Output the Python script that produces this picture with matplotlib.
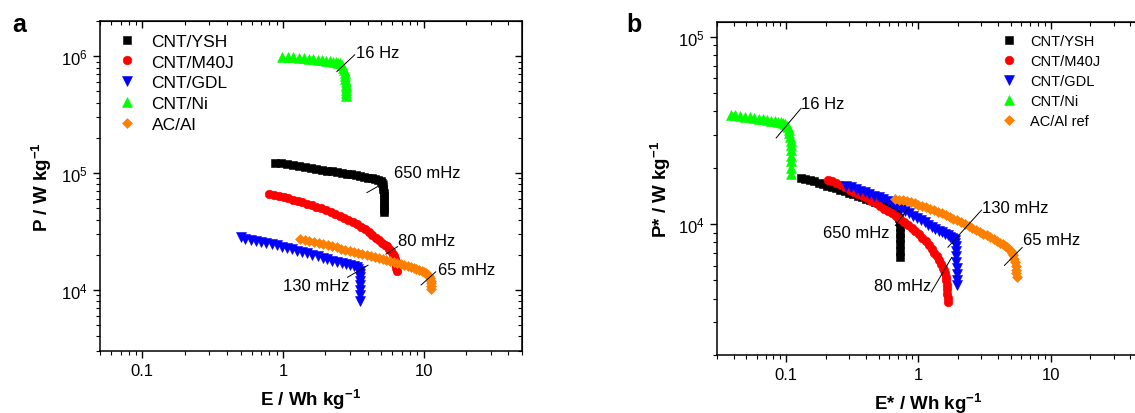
import numpy as np
import matplotlib
matplotlib.use("Agg")
import matplotlib.pyplot as plt
from matplotlib import ticker

plt.rcParams["font.family"] = ["Liberation Sans", "DejaVu Sans"]
plt.rcParams["mathtext.fontset"] = "custom"
plt.rcParams["mathtext.rm"] = "Liberation Sans"
plt.rcParams["mathtext.it"] = "Liberation Sans:italic"
plt.rcParams["mathtext.bf"] = "Liberation Sans:bold"

names_a = ["CNT/YSH", "CNT/M40J", "CNT/GDL", "CNT/Ni", "AC/Al"]
names_b = ["CNT/YSH", "CNT/M40J", "CNT/GDL", "CNT/Ni", "AC/Al ref"]
colors = ["#000000", "#ff0000", "#0000ff", "#00ff00", "#ff8000"]
markers = ["s", "o", "v", "^", "D"]
msizes = [5.5, 6.2, 6.8, 6.8, 5.5]

# ---- (a) Ragone, electrode mass basis: E in Wh/kg, P in W/kg ----
ysh_E = [0.88, 0.97, 1.07, 1.18, 1.30, 1.43, 1.57, 1.72, 1.88, 2.05, 2.23, 2.42,
         2.62, 2.83, 3.05, 3.28, 3.52, 3.77, 4.02, 4.28, 4.53, 4.77, 4.95, 5.07,
         5.14, 5.18, 5.20, 5.21, 5.22, 5.22, 5.22, 5.22]
ysh_P = np.array([12.3, 12.1, 11.9, 11.7, 11.5, 11.3, 11.1, 10.9, 10.7, 10.5, 10.35, 10.2,
                  10.05, 9.9, 9.75, 9.6, 9.45, 9.3, 9.15, 9.0, 8.85, 8.7, 8.5, 8.2,
                  7.8, 7.3, 6.8, 6.3, 5.8, 5.3, 4.9, 4.6]) * 1e4

m40j_E = [0.79, 0.86, 0.93, 1.01, 1.09, 1.18, 1.27, 1.37, 1.48, 1.60, 1.73, 1.87,
          2.02, 2.18, 2.35, 2.53, 2.72, 2.92, 3.13, 3.35, 3.58, 3.82, 4.06, 4.31,
          4.56, 4.81, 5.05, 5.28, 5.50, 5.70, 5.88, 6.03, 6.15, 6.25, 6.32, 6.37,
          6.40, 6.42]
m40j_P = np.array([6.67, 6.52, 6.38, 6.22, 6.06, 5.91, 5.76, 5.61, 5.45, 5.30, 5.14, 4.98,
                   4.82, 4.60, 4.45, 4.29, 4.12, 3.96, 3.80, 3.63, 3.47, 3.29, 3.13, 2.96,
                   2.80, 2.65, 2.54, 2.43, 2.36, 2.25, 2.14, 2.04, 1.94, 1.83, 1.72, 1.62,
                   1.53, 1.45]) * 1e4

gdl_E = [0.50, 0.54, 0.59, 0.64, 0.70, 0.76, 0.83, 0.90, 0.98, 1.07, 1.16, 1.26,
         1.37, 1.49, 1.62, 1.76, 1.91, 2.07, 2.24, 2.42, 2.61, 2.80, 3.00, 3.18,
         3.34, 3.44, 3.50, 3.52, 3.53, 3.53, 3.53, 3.53, 3.53, 3.53]
gdl_P = np.array([2.81, 2.75, 2.69, 2.63, 2.57, 2.51, 2.46, 2.40, 2.34, 2.28, 2.22, 2.16,
                  2.11, 2.05, 1.99, 1.94, 1.88, 1.83, 1.78, 1.73, 1.69, 1.65, 1.62, 1.59,
                  1.56, 1.52, 1.46, 1.38, 1.29, 1.20, 1.10, 1.00, 0.90, 0.81]) * 1e4

ni_E = [0.99, 1.08, 1.18, 1.29, 1.40, 1.52, 1.64, 1.77, 1.90, 2.03, 2.15, 2.27,
        2.38, 2.47, 2.55, 2.62, 2.68, 2.72, 2.75, 2.77, 2.78, 2.79, 2.79, 2.79,
        2.79, 2.79, 2.79]
ni_P = np.array([0.99, 0.98, 0.975, 0.968, 0.96, 0.952, 0.944, 0.935, 0.926, 0.917, 0.907, 0.897,
                 0.887, 0.878, 0.868, 0.84, 0.80, 0.76, 0.72, 0.68, 0.64, 0.60, 0.57,
                 0.54, 0.51, 0.48, 0.455]) * 1e6

acal_E = [1.33, 1.43, 1.54, 1.66, 1.79, 1.93, 2.08, 2.24, 2.41, 2.59, 2.78, 2.98,
          3.20, 3.43, 3.67, 3.93, 4.20, 4.49, 4.79, 5.11, 5.44, 5.78, 6.14, 6.51,
          6.89, 7.28, 7.68, 8.08, 8.48, 8.88, 9.27, 9.65, 10.0, 10.35, 10.65, 10.90,
          11.08, 11.2, 11.28, 11.32, 11.35]
acal_P = np.array([2.71, 2.66, 2.61, 2.56, 2.51, 2.46, 2.41, 2.36, 2.31, 2.26, 2.21, 2.16,
                   2.12, 2.07, 2.03, 1.99, 1.95, 1.91, 1.87, 1.84, 1.80, 1.77, 1.73, 1.70,
                   1.67, 1.64, 1.61, 1.58, 1.55, 1.52, 1.49, 1.46, 1.43, 1.39, 1.35, 1.31,
                   1.26, 1.20, 1.14, 1.08, 1.02]) * 1e4

# ---- (b) Ragone, full device basis: E* in Wh/kg, P* in W/kg ----
ysh_Es = [0.130, 0.140, 0.151, 0.163, 0.176, 0.190, 0.205, 0.221, 0.238, 0.257, 0.277, 0.299,
          0.322, 0.347, 0.374, 0.403, 0.434, 0.467, 0.502, 0.539, 0.578, 0.618, 0.658, 0.695,
          0.715, 0.725, 0.728, 0.730, 0.730, 0.730, 0.730, 0.730]
ysh_Ps = np.array([17.7, 17.4, 17.2, 16.9, 16.6, 16.3, 16.0, 15.8, 15.5, 15.2, 15.0, 14.7,
                   14.4, 14.2, 13.9, 13.6, 13.4, 13.1, 12.9, 12.6, 12.3, 12.0, 11.7, 11.3,
                   10.8, 10.2, 9.6, 9.0, 8.4, 7.8, 7.2, 6.7]) * 1e3

m40j_Es = [0.206, 0.222, 0.240, 0.259, 0.280, 0.302, 0.326, 0.352, 0.380, 0.410, 0.442, 0.476,
           0.512, 0.551, 0.592, 0.636, 0.682, 0.731, 0.782, 0.836, 0.892, 0.950, 1.010, 1.072,
           1.135, 1.198, 1.260, 1.320, 1.378, 1.432, 1.481, 1.525, 1.560, 1.590, 1.612, 1.628,
           1.640, 1.650, 1.657, 1.662, 1.665]
m40j_Ps = np.array([17.3, 16.9, 16.5, 16.1, 15.7, 15.3, 14.9, 14.5, 14.1, 13.7, 13.3, 12.9,
                    12.5, 12.1, 11.7, 11.4, 11.0, 10.6, 10.2, 9.85, 9.50, 9.15, 8.80, 8.45,
                    8.10, 7.75, 7.40, 7.05, 6.72, 6.40, 6.10, 5.82, 5.70, 5.45, 5.20, 5.00,
                    4.75, 4.50, 4.25, 4.05, 3.84]) * 1e3

gdl_Es = [0.286, 0.310, 0.336, 0.364, 0.394, 0.427, 0.462, 0.500, 0.541, 0.585, 0.632, 0.682,
          0.735, 0.791, 0.850, 0.912, 0.977, 1.045, 1.116, 1.190, 1.266, 1.344, 1.424, 1.505,
          1.586, 1.666, 1.730, 1.790, 1.840, 1.880, 1.905, 1.920, 1.930, 1.937, 1.942, 1.945,
          1.947, 1.948, 1.948]
gdl_Ps = np.array([16.0, 15.7, 15.4, 15.1, 14.8, 14.5, 14.2, 13.9, 13.6, 13.25, 12.9, 12.5,
                   12.1, 11.8, 11.4, 11.1, 10.8, 10.5, 10.2, 9.95, 9.70, 9.45, 9.22, 9.02,
                   8.85, 8.70, 8.57, 8.45, 8.35, 8.20, 7.95, 7.60, 7.20, 6.75, 6.30, 5.85,
                   5.40, 5.00, 4.71]) * 1e3

ni_Es = [0.038, 0.041, 0.045, 0.049, 0.053, 0.057, 0.062, 0.067, 0.072, 0.077, 0.082, 0.087,
         0.091, 0.095, 0.098, 0.101, 0.103, 0.105, 0.106, 0.107, 0.108, 0.108, 0.108, 0.108,
         0.108, 0.108, 0.108]
ni_Ps = np.array([3.84, 3.81, 3.78, 3.75, 3.72, 3.69, 3.66, 3.63, 3.60, 3.57, 3.55, 3.53,
                  3.50, 3.47, 3.42, 3.36, 3.28, 3.18, 3.06, 2.93, 2.79, 2.64, 2.48, 2.32,
                  2.16, 2.00, 1.85]) * 1e4

acal_Es = [0.668, 0.715, 0.765, 0.818, 0.875, 0.936, 1.00, 1.07, 1.15, 1.23, 1.31, 1.40,
           1.50, 1.61, 1.72, 1.84, 1.97, 2.10, 2.25, 2.40, 2.56, 2.73, 2.91, 3.10,
           3.30, 3.50, 3.71, 3.92, 4.13, 4.34, 4.55, 4.70, 4.85, 5.00, 5.12, 5.22,
           5.30, 5.38, 5.44, 5.49, 5.52, 5.55]
acal_Ps = np.array([13.6, 13.5, 13.4, 13.3, 13.1, 12.9, 12.7, 12.5, 12.3, 12.1, 11.9, 11.6,
                    11.4, 11.2, 10.9, 10.7, 10.5, 10.2, 10.0, 9.80, 9.55, 9.30, 9.10, 8.90,
                    8.70, 8.50, 8.30, 8.12, 7.95, 7.80, 7.65, 7.50, 7.35, 7.20, 7.00, 6.80,
                    6.55, 6.30, 6.00, 5.70, 5.45, 5.21]) * 1e3

series_a = [(ysh_E, ysh_P), (m40j_E, m40j_P), (gdl_E, gdl_P), (ni_E, ni_P), (acal_E, acal_P)]
series_b = [(ysh_Es, ysh_Ps), (m40j_Es, m40j_Ps), (gdl_Es, gdl_Ps), (ni_Es, ni_Ps), (acal_Es, acal_Ps)]

# frequency labels: (text, line start, line end, text anchor, ha)
freq_a = [
    ("16 Hz", (2.41, 7.36e5), (3.24, 1.03e6), (3.30, 1.075e6), "left"),
    ("650 mHz", (3.94, 6.79e4), (5.53, 8.55e4), (6.2, 1.008e5), "left"),
    ("80 mHz", (5.38, 2.02e4), (6.53, 2.35e4), (6.6, 2.66e4), "left"),
    ("130 mHz", (2.87, 1.28e4), (4.03, 1.63e4), (2.95, 1.097e4), "right"),
    ("65 mHz", (9.57, 1.10e4), (12.2, 1.43e4), (12.6, 1.50e4), "left"),
]
freq_b = [
    ("16 Hz", (0.0839, 2.88e4), (0.130, 4.16e4), (0.130, 4.43e4), "left"),
    ("650 mHz", (0.668, 9.8e3), (0.834, 1.21e4), (0.61, 9.03e3), "right"),
    ("80 mHz", (1.25, 4.33e3), (1.79, 6.65e3), (1.26, 4.71e3), "right"),
    ("130 mHz", (1.67, 7.51e3), (3.01, 1.19e4), (3.03, 1.23e4), "left"),
    ("65 mHz", (4.47, 6.01e3), (6.11, 7.51e3), (6.15, 8.26e3), "left"),
]


def style_axes(ax, xlim, ylim):
    ax.set_xscale("log")
    ax.set_yscale("log")
    ax.set_xlim(*xlim)
    ax.set_ylim(*ylim)
    ax.xaxis.set_major_formatter(ticker.FuncFormatter(lambda v, _: f"{v:g}"))
    ax.xaxis.set_minor_formatter(ticker.NullFormatter())
    ax.yaxis.set_minor_formatter(ticker.NullFormatter())
    ax.tick_params(which="major", direction="out", length=5, width=1.0, labelsize=12, pad=4)
    ax.tick_params(which="minor", direction="out", length=2.8, width=0.8)
    for s in ax.spines.values():
        s.set_linewidth(1.1)
    # inward ticks on the top and right edges
    top = ax.secondary_xaxis("top")
    top.tick_params(which="major", direction="in", length=5, width=1.0, labeltop=False)
    top.tick_params(which="minor", direction="in", length=2.8, width=0.8)
    top.xaxis.set_minor_formatter(ticker.NullFormatter())
    right = ax.secondary_yaxis("right")
    right.tick_params(which="major", direction="in", length=5, width=1.0, labelright=False)
    right.tick_params(which="minor", direction="in", length=2.8, width=0.8)
    right.yaxis.set_minor_formatter(ticker.NullFormatter())


def draw_series(ax, series, names):
    for (e, p), name, c, m, ms in zip(series, names, colors, markers, msizes):
        ax.plot(e, p, linestyle="none", marker=m, markersize=ms, color=c,
                markeredgecolor=c, markeredgewidth=0.4, label=name)


def draw_freqs(ax, items):
    for text, p0, p1, pt, ha in items:
        ax.annotate("", xy=p0, xytext=p1,
                    arrowprops=dict(arrowstyle="-", lw=0.7, color="black",
                                    shrinkA=0, shrinkB=0))
        ax.text(pt[0], pt[1], text, ha=ha, va="center", fontsize=12)


W, H = 1135, 414
fig = plt.figure(figsize=(W / 100, H / 100), dpi=100, facecolor="white")

ax1 = fig.add_axes([100 / W, 1 - 352 / H, 422 / W, 330 / H])
draw_series(ax1, series_a, names_a)
style_axes(ax1, (0.05, 50), (3e3, 2e6))
draw_freqs(ax1, freq_a)
ax1.set_xlabel(r"E / Wh kg$^{\mathbf{-1}}$", fontsize=13.5, fontweight="bold")
ax1.set_ylabel(r"P / W kg$^{\mathbf{-1}}$", fontsize=13.5, fontweight="bold")
ax1.xaxis.set_label_coords(0.5, -0.108)
ax1.yaxis.set_label_coords(-0.11, 0.5)
ax1.legend(loc="upper left", bbox_to_anchor=(0.044, 0.962), frameon=False,
           fontsize=12.5, handlelength=1.0, handletextpad=0.9, labelspacing=0.33,
           borderpad=0, borderaxespad=0, numpoints=1)

ax2 = fig.add_axes([717 / W, 1 - 356 / H, 426 / W, 333 / H])
draw_series(ax2, series_b, names_b)
style_axes(ax2, (0.03, 50), (2e3, 1.2e5))
draw_freqs(ax2, freq_b)
ax2.set_xlabel(r"E* / Wh kg$^{\mathbf{-1}}$", fontsize=13.5, fontweight="bold")
ax2.set_ylabel(r"P* / W kg$^{\mathbf{-1}}$", fontsize=13.5, fontweight="bold")
ax2.xaxis.set_label_coords(0.495, -0.108)
ax2.yaxis.set_label_coords(-0.104, 0.5)
ax2.legend(loc="upper left", bbox_to_anchor=(0.668, 0.964), frameon=False,
           fontsize=10.5, handlelength=1.0, handletextpad=0.95, labelspacing=0.42,
           borderpad=0, borderaxespad=0, numpoints=1)

fig.text(12 / W, 1 - 32 / H, "a", fontsize=18, fontweight="bold", va="baseline")
fig.text(626 / W, 1 - 32 / H, "b", fontsize=18, fontweight="bold", va="baseline")

fig.savefig("out.png", dpi=100, facecolor="white")
